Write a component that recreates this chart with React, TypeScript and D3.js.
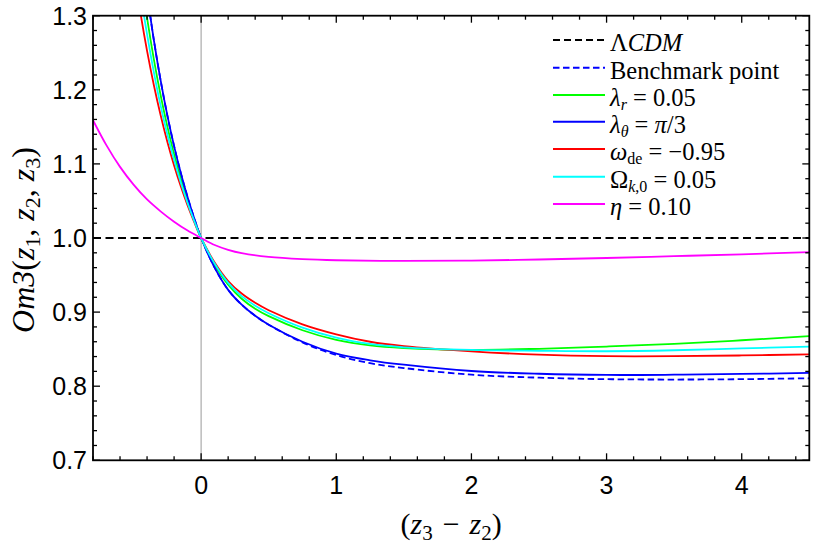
import React from 'react';
import * as d3 from 'd3';

// x grid for the steep curves (values above 1.3 are clipped)
const zMain = [-0.5, -0.45, -0.4, -0.35, -0.3, -0.25, -0.2, -0.15, -0.1, -0.05, 0, 0.1, 0.2, 0.3, 0.4, 0.5, 0.75, 1, 1.25, 1.5, 2, 2.5, 3, 3.5, 4, 4.5];
const benchmark = [1.49, 1.4035, 1.3305, 1.2675, 1.213, 1.1655, 1.124, 1.0875, 1.055, 1.026, 1.0, 0.96, 0.93, 0.91, 0.895, 0.883, 0.859, 0.842, 0.831, 0.8245, 0.8155, 0.8115, 0.8095, 0.809, 0.8095, 0.8107];
const lambdaR = [1.4345, 1.361, 1.297, 1.2415, 1.193, 1.1505, 1.113, 1.08, 1.0505, 1.024, 1.0, 0.964, 0.937, 0.918, 0.9045, 0.8945, 0.8755, 0.8625, 0.855, 0.8515, 0.849, 0.8505, 0.8535, 0.857, 0.862, 0.8675];
const lambdaTheta = [1.49, 1.4035, 1.3305, 1.2675, 1.213, 1.1655, 1.124, 1.0875, 1.055, 1.026, 1.0, 0.96, 0.93, 0.91, 0.895, 0.883, 0.86, 0.844, 0.835, 0.829, 0.8205, 0.8168, 0.8152, 0.8155, 0.8165, 0.818];
const omegaDe = [1.365, 1.305, 1.2525, 1.2065, 1.166, 1.13, 1.098, 1.0695, 1.044, 1.021, 1.0, 0.967, 0.942, 0.925, 0.9125, 0.9025, 0.8835, 0.87, 0.86, 0.854, 0.847, 0.8425, 0.8405, 0.8405, 0.8415, 0.843];
const omegaK = [1.4, 1.333, 1.275, 1.224, 1.179, 1.14, 1.1055, 1.0745, 1.047, 1.0225, 1.0, 0.9655, 0.9395, 0.9215, 0.9085, 0.8985, 0.879, 0.8655, 0.857, 0.8525, 0.849, 0.8478, 0.8472, 0.8485, 0.851, 0.8533];

// eta curve covers the whole range
const zEta = [-0.8, -0.7, -0.6, -0.5, -0.4, -0.3, -0.2, -0.1, 0, 0.1, 0.2, 0.3, 0.5, 0.75, 1, 1.5, 2, 2.5, 3, 3.5, 4, 4.5];
const eta = [1.159, 1.125, 1.096, 1.072, 1.052, 1.036, 1.022, 1.01, 1.0, 0.9905, 0.984, 0.9795, 0.9745, 0.9715, 0.97, 0.969, 0.9695, 0.971, 0.973, 0.9755, 0.978, 0.981];

const xTicks = [0, 1, 2, 3, 4];
const yTicks = [0.7, 0.8, 0.9, 1.0, 1.1, 1.2, 1.3];

const W = 814;
const H = 548;
const plot = { left: 93, right: 809.3, top: 15.7, bottom: 460.3 };

const x = d3.scaleLinear().domain([-0.8, 4.5]).range([plot.left, plot.right]);
const y = d3.scaleLinear().domain([0.7, 1.3]).range([plot.bottom, plot.top]);

const line = d3
  .line<[number, number]>()
  .x((d) => x(d[0]))
  .y((d) => y(d[1]))
  .curve(d3.curveCatmullRom.alpha(0.5));

const zip = (xs: number[], ys: number[]) => xs.map((v, i) => [v, ys[i]] as [number, number]);

const serif = '"Liberation Serif", "Times New Roman", serif';
const sans = '"Liberation Sans", Arial, sans-serif';

export default function App() {
  const xMinor = d3.range(-0.8, 4.5001, 0.2).filter((v) => Math.abs(v - Math.round(v)) > 0.01);
  const yMinor = d3.range(0.7, 1.3001, 0.02).filter((v) => Math.abs(v * 10 - Math.round(v * 10)) > 0.01);

  const series = [
    { data: zip(zMain, benchmark), color: '#0000ff', dash: '6.5,3.5' },
    { data: zip(zMain, lambdaR), color: '#00ff00' },
    { data: zip(zMain, lambdaTheta), color: '#0000ff' },
    { data: zip(zMain, omegaDe), color: '#ff0000' },
    { data: zip(zMain, omegaK), color: '#00ffff' },
    { data: zip(zEta, eta), color: '#ff00ff' },
  ];

  const legendY = [40, 67.7, 95, 121.7, 149, 176.7, 204];
  const legendLines = [
    { color: '#000', dash: '7,4' },
    { color: '#0000ff', dash: '6.5,3.5' },
    { color: '#00ff00' },
    { color: '#0000ff' },
    { color: '#ff0000' },
    { color: '#00ffff' },
    { color: '#ff00ff' },
  ];
  const sub = { fontSize: 16 };

  return (
    <svg width={W} height={H} style={{ position: 'absolute', left: 0, top: 0, background: '#fff' }}>
      <defs>
        <clipPath id="plot-clip">
          <rect x={plot.left} y={plot.top} width={plot.right - plot.left} height={plot.bottom - plot.top} />
        </clipPath>
      </defs>

      {/* x = 0 axis */}
      <line x1={x(0)} x2={x(0)} y1={plot.top} y2={plot.bottom} stroke="#aaa" strokeWidth={1.2} />

      <g clipPath="url(#plot-clip)">
        {/* LCDM reference */}
        <line x1={plot.left} x2={plot.right} y1={y(1)} y2={y(1)} stroke="#000" strokeWidth={2} strokeDasharray="8,4.5" />
        {series.map((s, i) => (
          <path key={i} d={line(s.data) ?? ''} fill="none" stroke={s.color} strokeWidth={1.8} strokeDasharray={s.dash} />
        ))}
      </g>

      {/* frame */}
      <rect x={plot.left} y={plot.top} width={plot.right - plot.left} height={plot.bottom - plot.top} fill="none" stroke="#000" strokeWidth={1.8} />

      {/* ticks on all four sides */}
      <g stroke="#000" strokeWidth={1.3}>
        {xTicks.map((t) => (
          <g key={`xM${t}`}>
            <line x1={x(t)} x2={x(t)} y1={plot.bottom} y2={plot.bottom - 7} />
            <line x1={x(t)} x2={x(t)} y1={plot.top} y2={plot.top + 7} />
          </g>
        ))}
        {xMinor.map((t) => (
          <g key={`xm${t}`}>
            <line x1={x(t)} x2={x(t)} y1={plot.bottom} y2={plot.bottom - 4} />
            <line x1={x(t)} x2={x(t)} y1={plot.top} y2={plot.top + 4} />
          </g>
        ))}
        {yTicks.map((t) => (
          <g key={`yM${t}`}>
            <line x1={plot.left} x2={plot.left + 7} y1={y(t)} y2={y(t)} />
            <line x1={plot.right} x2={plot.right - 7} y1={y(t)} y2={y(t)} />
          </g>
        ))}
        {yMinor.map((t) => (
          <g key={`ym${t}`}>
            <line x1={plot.left} x2={plot.left + 4} y1={y(t)} y2={y(t)} />
            <line x1={plot.right} x2={plot.right - 4} y1={y(t)} y2={y(t)} />
          </g>
        ))}
      </g>

      {/* tick labels */}
      <g fontFamily={sans} fontSize={25} fill="#000">
        {xTicks.map((t) => (
          <text key={t} x={x(t)} y={494} textAnchor="middle">{t}</text>
        ))}
        {yTicks.map((t) => (
          <text key={t} x={87} y={y(t) + 9} textAnchor="end">{t.toFixed(1)}</text>
        ))}
      </g>

      {/* axis labels */}
      <text x={(plot.left + plot.right) / 2} y={534} textAnchor="middle" fontFamily={serif} fontSize={30}>
        <tspan>(</tspan>
        <tspan fontStyle="italic">z</tspan>
        <tspan dy={6} fontSize={21}>3</tspan>
        <tspan dy={-6}>{'\u2004\u2212\u2004'}</tspan>
        <tspan fontStyle="italic">z</tspan>
        <tspan dy={6} fontSize={21}>2</tspan>
        <tspan dy={-6}>)</tspan>
      </text>
      <text transform="translate(34,240) rotate(-90)" textAnchor="middle" fontFamily={serif} fontSize={32}>
        <tspan fontStyle="italic">Om3</tspan>
        <tspan>(</tspan>
        <tspan fontStyle="italic">z</tspan>
        <tspan dy={6} fontSize={22}>1</tspan>
        <tspan dy={-6}>, </tspan>
        <tspan fontStyle="italic">z</tspan>
        <tspan dy={6} fontSize={22}>2</tspan>
        <tspan dy={-6}>, </tspan>
        <tspan fontStyle="italic">z</tspan>
        <tspan dy={6} fontSize={22}>3</tspan>
        <tspan dy={-6}>)</tspan>
      </text>

      {/* legend */}
      <g>
        {legendLines.map((l, i) => (
          <line key={i} x1={553} x2={605} y1={legendY[i]} y2={legendY[i]} stroke={l.color} strokeWidth={2} strokeDasharray={l.dash} />
        ))}
      </g>
      <g fontFamily={serif} fontSize={24.5} fill="#000">
        <text x={610} y={legendY[0] + 11}>
          <tspan>Λ</tspan>
          <tspan fontStyle="italic">CDM</tspan>
        </text>
        <text x={610} y={legendY[1] + 11}>Benchmark point</text>
        <text x={610} y={legendY[2] + 11}>
          <tspan fontStyle="italic">λ</tspan>
          <tspan dy={4} fontStyle="italic" {...sub}>r</tspan>
          <tspan dy={-4}> = 0.05</tspan>
        </text>
        <text x={610} y={legendY[3] + 11}>
          <tspan fontStyle="italic">λ</tspan>
          <tspan dy={4} fontStyle="italic" {...sub}>θ</tspan>
          <tspan dy={-4}> = </tspan>
          <tspan fontStyle="italic">π</tspan>
          <tspan>/3</tspan>
        </text>
        <text x={610} y={legendY[4] + 11}>
          <tspan fontStyle="italic">ω</tspan>
          <tspan dy={4} {...sub}>de</tspan>
          <tspan dy={-4}> = −0.95</tspan>
        </text>
        <text x={610} y={legendY[5] + 11}>
          <tspan>Ω</tspan>
          <tspan dy={4} fontStyle="italic" {...sub}>k</tspan>
          <tspan {...sub}>,0</tspan>
          <tspan dy={-4}> = 0.05</tspan>
        </text>
        <text x={610} y={legendY[6] + 11}>
          <tspan fontStyle="italic">η</tspan>
          <tspan> = 0.10</tspan>
        </text>
      </g>
    </svg>
  );
}
